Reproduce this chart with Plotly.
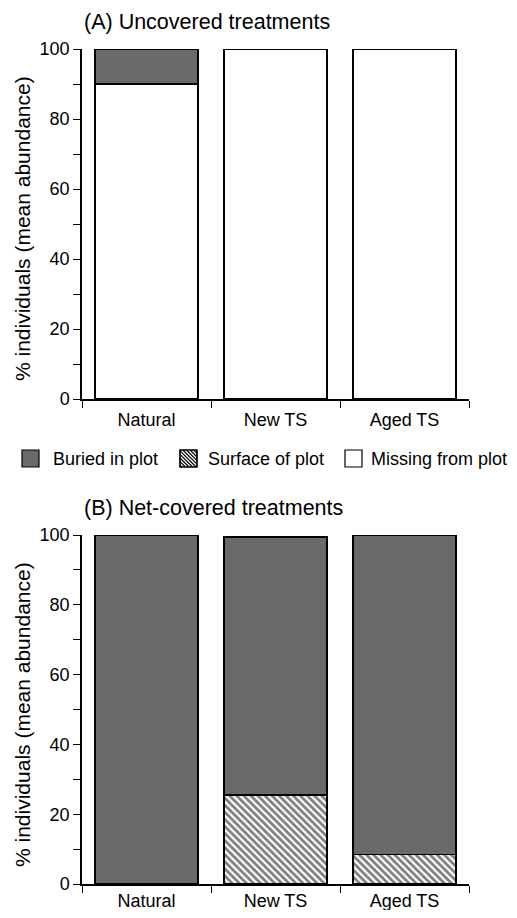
import plotly.graph_objects as go

categories = ["Natural", "New TS", "Aged TS"]
uncov_buried = [10, 0, 0]
uncov_surface = [0, 0, 0]
uncov_missing = [90, 100, 100]
net_buried = [100, 74, 91.5]
net_surface = [0, 25.5, 8.5]
net_missing = [0, 0, 0]
series_names = ["Buried in plot", "Surface of plot", "Missing from plot"]
panel_titles = ["(A) Uncovered treatments", "(B) Net-covered treatments"]
y_title = "% individuals (mean abundance)"
y_tickvals = list(range(0, 101, 10))
y_ticktext = [str(v) if v % 20 == 0 else "" for v in y_tickvals]

FONT = "Liberation Sans, Arial, Helvetica, sans-serif"
DARK = "#6a6a6a"
OFF = 8            # browser body margin
W, H = 517 - 2 * OFF, 918 - 2 * OFF


def px(xp):
    return (xp - OFF) / W


def py(yp):
    return 1 - (yp - OFF) / H


fig = go.Figure()
hatch = dict(shape="\\", fgcolor="black", bgcolor="white", size=5, solidity=0.55)


def add_panel(xa, ya, missing, surface, buried):
    fig.add_trace(go.Bar(x=categories, y=missing, name=series_names[2], xaxis=xa, yaxis=ya,
                         marker=dict(color="white", line=dict(color="black", width=1.6)),
                         width=0.8, showlegend=False))
    fig.add_trace(go.Bar(x=categories, y=surface, name=series_names[1], xaxis=xa, yaxis=ya,
                         marker=dict(color="white", line=dict(color="black", width=1.6),
                                     pattern=hatch),
                         width=0.8, showlegend=False))
    fig.add_trace(go.Bar(x=categories, y=buried, name=series_names[0], xaxis=xa, yaxis=ya,
                         marker=dict(color=DARK, line=dict(color="black", width=1.6)),
                         width=0.8, showlegend=False))


add_panel("x", "y", uncov_missing, uncov_surface, uncov_buried)
add_panel("x2", "y2", net_missing, net_surface, net_buried)

xdom = [px(82), px(469)]
xcommon = dict(domain=xdom, type="category", tickson="boundaries", ticks="outside", ticklen=7,
               tickwidth=1.3, tickcolor="black", showline=True, linecolor="black", linewidth=1.5,
               showgrid=False, tickfont=dict(size=18, color="black"), fixedrange=True,
               automargin=False)
ycommon = dict(range=[0, 100], tickvals=y_tickvals, ticktext=y_ticktext, ticks="outside",
               ticklen=7, tickwidth=1.3, tickcolor="black", showline=True, linecolor="black",
               linewidth=1.5, showgrid=False, zeroline=False,
               tickfont=dict(size=18, color="black"), automargin=False, fixedrange=True)

# ---- manual legend (keys + labels) ----
shapes = []
annotations = []
key_y0, key_y1 = 450, 467
keys = [(22, 51, DARK, False), (180, 206, "white", True), (345, 369, "white", False)]
for (kx, tx, col, hatched), name in zip(keys, series_names):
    kx1 = kx + 17
    shapes.append(dict(type="rect", xref="paper", yref="paper", x0=px(kx), x1=px(kx1),
                       y0=py(key_y1), y1=py(key_y0), fillcolor=col,
                       line=dict(color="black", width=1.2), layer="above"))
    if hatched:
        step = 3.6
        w, h = kx1 - kx, key_y1 - key_y0
        c = -h + step / 2
        while c < w:
            u0 = max(0, c)
            v0 = u0 - c
            u1 = min(w, h + c)
            v1 = u1 - c
            if u1 > u0:
                shapes.append(dict(type="line", xref="paper", yref="paper",
                                   x0=px(kx + u0), y0=py(key_y0 + v0),
                                   x1=px(kx + u1), y1=py(key_y0 + v1),
                                   line=dict(color="black", width=1.2), layer="above"))
            c += step
        shapes.append(dict(type="rect", xref="paper", yref="paper", x0=px(kx), x1=px(kx1),
                           y0=py(key_y1), y1=py(key_y0),
                           line=dict(color="black", width=1.2), layer="above"))
    annotations.append(dict(text=name, x=px(tx), y=py(459), xref="paper", yref="paper",
                            xanchor="left", yanchor="middle", showarrow=False,
                            font=dict(size=18)))

annotations += [
    dict(text=panel_titles[0], x=px(82), y=py(22), xref="paper", yref="paper",
         xanchor="left", yanchor="middle", showarrow=False, font=dict(size=21.5)),
    dict(text=panel_titles[1], x=px(82), y=py(508), xref="paper", yref="paper",
         xanchor="left", yanchor="middle", showarrow=False, font=dict(size=21.5)),
    dict(text=y_title, x=px(22), y=py(229), xref="paper", yref="paper", textangle=-90,
         showarrow=False, font=dict(size=21), xanchor="center", yanchor="middle"),
    dict(text=y_title, x=px(22), y=py(715), xref="paper", yref="paper", textangle=-90,
         showarrow=False, font=dict(size=21), xanchor="center", yanchor="middle"),
]

fig.update_layout(
    width=W, height=H,
    margin=dict(l=0, r=0, t=0, b=0, autoexpand=False),
    paper_bgcolor="white", plot_bgcolor="white",
    font=dict(family=FONT, color="black", size=18),
    barmode="stack",
    showlegend=False,
    xaxis=dict(**xcommon, anchor="y", ticklabelstandoff=4),
    yaxis=dict(**ycommon, domain=[py(399), py(49)], anchor="x"),
    xaxis2=dict(**xcommon, anchor="y2"),
    yaxis2=dict(**ycommon, domain=[py(884), py(535)], anchor="x2"),
    shapes=shapes,
    annotations=annotations,
)

fig.write_html("out.html")
